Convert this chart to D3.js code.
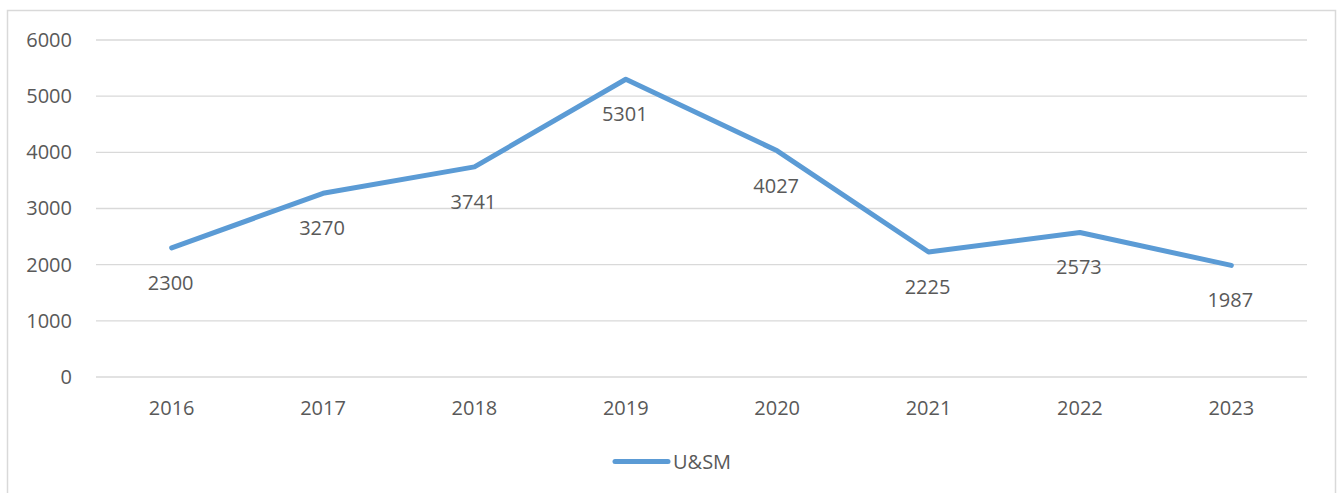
<!DOCTYPE html>
<html><head><meta charset="utf-8">
<script src="https://cdn.jsdelivr.net/npm/d3@7"></script>
<style>body{margin:0;background:#fff}svg{display:block}text{font-family:"Open Sans","Noto Sans",sans-serif;fill:#595959}</style>
</head><body><svg id="c" width="1340" height="493"></svg>
<script>
const categories = ["2016","2017","2018","2019","2020","2021","2022","2023"];
const values = [2300,3270,3741,5301,4027,2225,2573,1987];
const yTicks = [0,1000,2000,3000,4000,5000,6000];
const seriesName = "U&SM";

const svg = d3.select("#c");
const W = 1340, H = 493;
const m = {l:96, r:1307, t:40, b:377};
svg.append("rect").attr("x",7.5).attr("y",10.5).attr("width",1328).attr("height",H).attr("fill","#fff").attr("stroke","#d9d9d9").attr("stroke-width",1.5);

const x = d3.scaleBand().domain(categories).range([m.l,m.r]);
const y = d3.scaleLinear().domain([0,6000]).range([m.b,m.t]);

const grid = svg.append("g");
grid.selectAll("line").data(yTicks).join("line")
  .attr("x1",m.l).attr("x2",m.r).attr("y1",d=>y(d)).attr("y2",d=>y(d))
  .attr("stroke","#d9d9d9").attr("stroke-width",1.3);

const yAxis = svg.append("g").attr("transform",`translate(${m.l},0)`)
  .call(d3.axisLeft(y).tickValues(yTicks).tickSize(0).tickPadding(24).tickFormat(d3.format("d")));
yAxis.select(".domain").remove();
yAxis.selectAll("text").attr("font-size",20).style("fill","#595959").attr("font-family","Open Sans");

const xAxis = svg.append("g").attr("transform",`translate(0,${m.b})`)
  .call(d3.axisBottom(x).tickSize(0).tickPadding(24));
xAxis.select(".domain").remove();
xAxis.selectAll("text").attr("font-size",20).style("fill","#595959").attr("font-family","Open Sans");

const cx = d => x(d) + x.bandwidth()/2;
const line = d3.line().x((d,i)=>cx(categories[i])).y(d=>y(d));
svg.append("path").datum(values).attr("d",line).attr("fill","none")
  .attr("stroke","#5b9bd5").attr("stroke-width",5).attr("stroke-linejoin","round").attr("stroke-linecap","round");

svg.append("g").selectAll("text").data(values).join("text")
  .attr("x",(d,i)=>cx(categories[i])-1).attr("y",d=>y(d)+35)
  .attr("dy","0.35em").attr("text-anchor","middle").attr("font-size",20).text(d=>d);

const lg = svg.append("g");
lg.append("line").attr("x1",615).attr("x2",668).attr("y1",461.5).attr("y2",461.5)
  .attr("stroke","#5b9bd5").attr("stroke-width",5).attr("stroke-linecap","round");
lg.append("text").attr("x",673).attr("y",461.5).attr("dy","0.35em").attr("font-size",20).text(seriesName);
</script></body></html>
